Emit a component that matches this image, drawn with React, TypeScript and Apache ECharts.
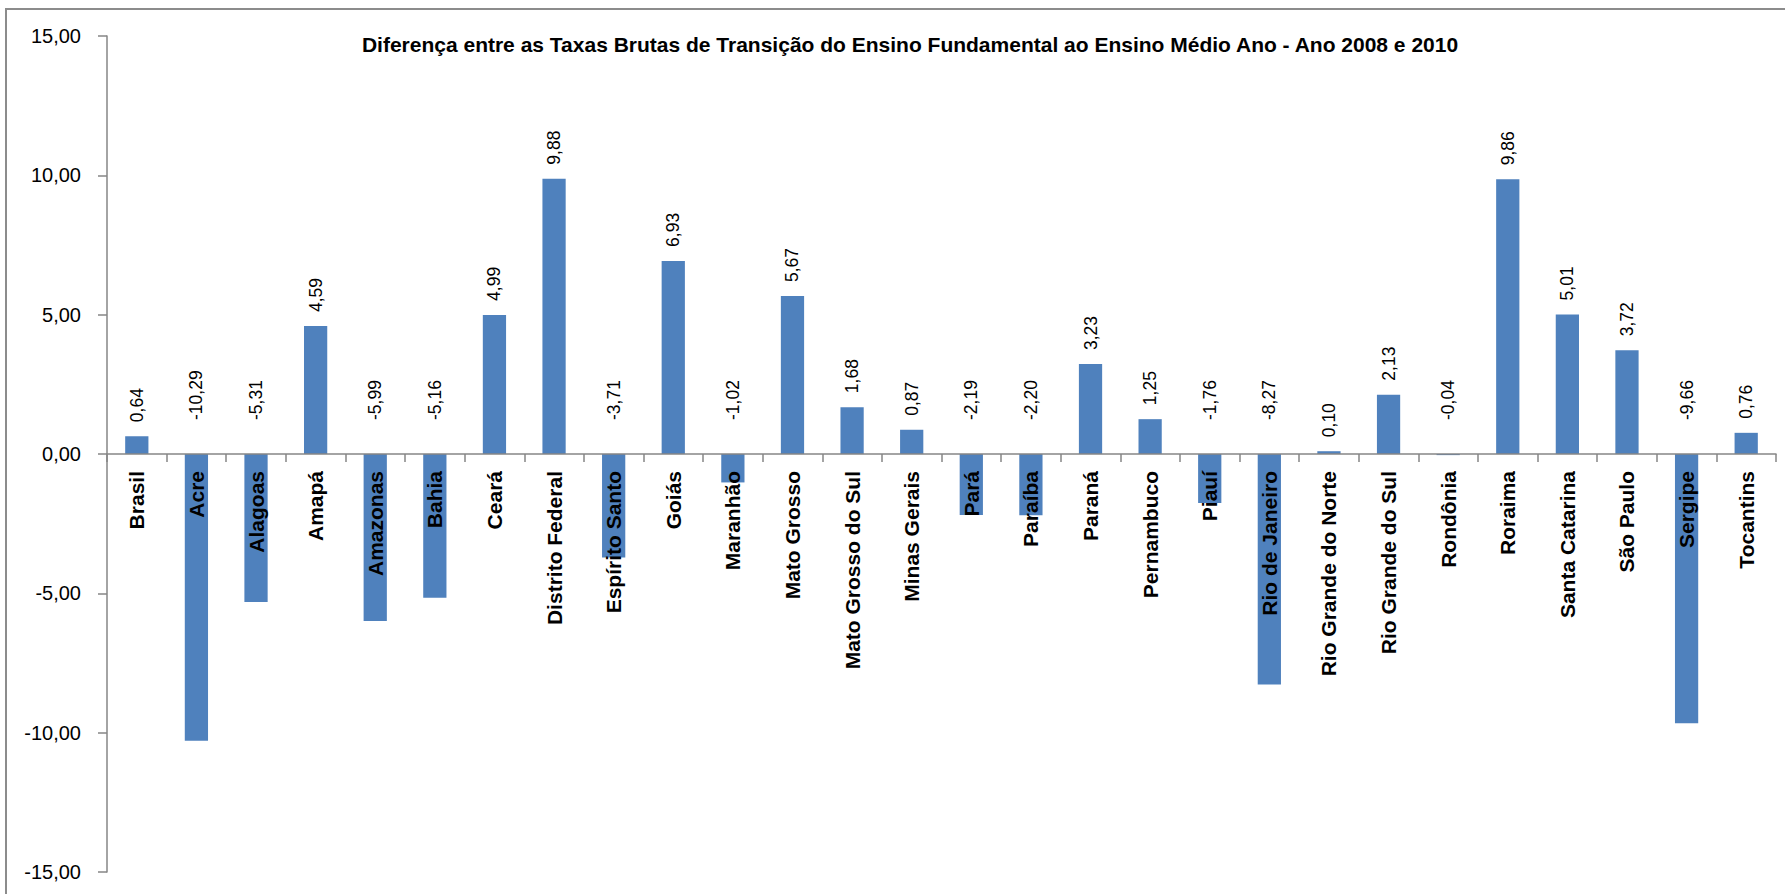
import React, { useEffect, useRef } from "react";
import * as echarts from "echarts";

const TITLE =
  "Diferença entre as Taxas Brutas de Transição do Ensino Fundamental ao Ensino Médio Ano - Ano 2008 e 2010";

const categories = [
  "Brasil", "Acre", "Alagoas", "Amapá", "Amazonas", "Bahia", "Ceará",
  "Distrito Federal", "Espírito Santo", "Goiás", "Maranhão", "Mato Grosso",
  "Mato Grosso do Sul", "Minas Gerais", "Pará", "Paraíba", "Paraná",
  "Pernambuco", "Piauí", "Rio de Janeiro", "Rio Grande do Norte",
  "Rio Grande do Sul", "Rondônia", "Roraima", "Santa Catarina", "São Paulo",
  "Sergipe", "Tocantins",
];

const values = [
  0.64, -10.29, -5.31, 4.59, -5.99, -5.16, 4.99, 9.88, -3.71, 6.93, -1.02,
  5.67, 1.68, 0.87, -2.19, -2.2, 3.23, 1.25, -1.76, -8.27, 0.1, 2.13, -0.04,
  9.86, 5.01, 3.72, -9.66, 0.76,
];

const yMin = -15;
const yMax = 15;
const yStep = 5;

const fmt = (v: number) => v.toFixed(2).replace(".", ",");

const W = 1785;
const H = 894;
const GRID = { left: 107, right: 9, top: 36, bottom: 22 };

export default function App() {
  const ref = useRef<HTMLDivElement>(null);
  useEffect(() => {
    document.body.style.margin = "0";
    if (!ref.current) return;
    const chart = echarts.init(ref.current, undefined, { renderer: "svg" });
    const axisColor = "#868686";
    const font = "'Liberation Sans', Arial, sans-serif";
    const gridH = H - GRID.top - GRID.bottom;
    // move the category axis up to the value 0 of the value axis
    const zeroOffset = -gridH * (0 - yMin) / (yMax - yMin);
    chart.setOption({
      animation: false,
      backgroundColor: "#ffffff",
      title: {
        text: TITLE,
        left: 905,
        top: 29,
        textAlign: "center",
        textStyle: {
          fontFamily: font,
          fontWeight: "bold",
          fontSize: 21,
          color: "#000",
        },
      },
      graphic: [
        {
          type: "rect",
          shape: { x: 6, y: 9, width: 1900, height: 1000 },
          style: { fill: "none", stroke: "#8c8c8c", lineWidth: 2 },
          silent: true,
        },
      ],
      grid: { ...GRID, containLabel: false, outerBoundsMode: "none" },
      xAxis: {
        type: "category",
        data: categories,
        z: 10,
        offset: zeroOffset,
        axisLine: { onZero: false, lineStyle: { color: axisColor, width: 1.5 } },
        axisTick: {
          show: true,
          interval: 0,
          length: 8,
          lineStyle: { color: axisColor, width: 1.5 },
        },
        axisLabel: {
          interval: 0,
          rotate: 90,
          margin: 17,
          fontFamily: font,
          fontWeight: "bold",
          fontSize: 21,
          color: "#000",
        },
      },
      yAxis: {
        type: "value",
        min: yMin,
        max: yMax,
        interval: yStep,
        splitLine: { show: false },
        axisLine: { show: true, lineStyle: { color: axisColor, width: 1.5 } },
        axisTick: { show: true, length: 9, lineStyle: { color: axisColor, width: 1.5 } },
        axisLabel: {
          formatter: (v: number) => fmt(v),
          margin: 26,
          fontFamily: font,
          fontSize: 20,
          color: "#000",
        },
      },
      series: [
        {
          type: "bar",
          barWidth: "39%",
          itemStyle: { color: "#4F81BD" },
          data: values.map((v) => ({
            value: v,
            label: { distance: v < 0 ? 34 : 14 },
          })),
          label: {
            show: true,
            position: "top",
            rotate: 90,
            align: "left",
            verticalAlign: "middle",
            fontFamily: font,
            fontSize: 17.5,
            color: "#000",
            formatter: (p: any) => fmt(p.value),
          },
        },
      ],
    });
    return () => chart.dispose();
  }, []);
  return <div ref={ref} style={{ width: W, height: H }} />;
}
